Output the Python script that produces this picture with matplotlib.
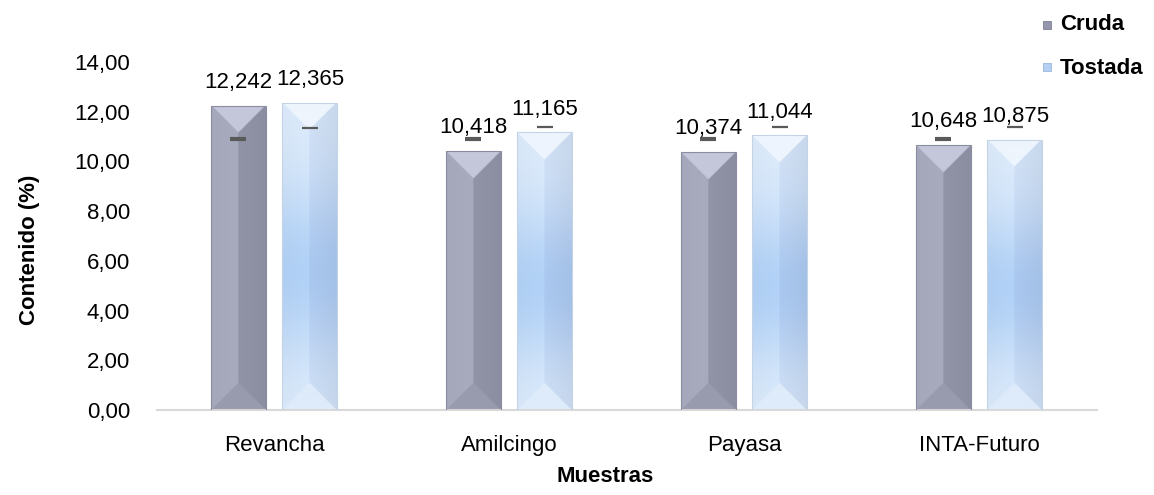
import numpy as np
import matplotlib
matplotlib.use('Agg')
import matplotlib.pyplot as plt
from matplotlib.patches import Rectangle

# ---- data ----
muestras = ['Revancha', 'Amilcingo', 'Payasa', 'INTA-Futuro']
cruda = [12.242, 10.418, 10.374, 10.648]
tostada = [12.365, 11.165, 11.044, 10.875]
cruda_marca = [10.9, 10.9, 10.9, 10.9]
tostada_marca = [11.35, 11.37, 11.37, 11.37]
yticks = [0, 2, 4, 6, 8, 10, 12, 14]
series_names = ['Cruda', 'Tostada']

plt.rcParams['font.family'] = ['Liberation Sans', 'DejaVu Sans']

FW, FH = 1154, 495
fig = plt.figure(figsize=(FW / 100, FH / 100), dpi=100)
ax = fig.add_axes([156.5 / FW, 85 / FH, 940 / FW, 348 / FH])

x = np.arange(len(muestras))
w = 0.234
off = 0.153
bc = ax.bar(x - off, cruda, w, facecolor='none', edgecolor='#8a8da0', linewidth=0.8, zorder=3)
bt = ax.bar(x + off, tostada, w, facecolor='none', edgecolor='#c5d3e6', linewidth=0.8, zorder=3)
ax.set_xlim(-0.5, len(muestras) - 0.5)
ax.set_ylim(0, 14)


def c(rgb):
    return np.array(rgb, dtype=float) / 255.0


def bevel(patch, top, bot, left, right, mid_left=None, mid_right=None):
    x0 = patch.get_x(); bw = patch.get_width(); h = patch.get_height()
    p0 = ax.transData.transform((x0, 0)); p1 = ax.transData.transform((x0 + bw, h))
    Wp = max(int(round(p1[0] - p0[0])), 2); Hp = max(int(round(p1[1] - p0[1])), 2)
    S = 3
    W, H = Wp * S, Hp * S
    xx = (np.arange(W) + 0.5)[None, :] * np.ones((H, 1))
    yy = (np.arange(H) + 0.5)[:, None] * np.ones((1, W))
    edge = np.minimum(xx, W - xx)
    t = yy / H
    g = np.exp(-((t - 0.55) / 0.28) ** 2)[..., None]
    L = left[None, None, :] * np.ones((H, W, 1))
    R = right[None, None, :] * np.ones((H, W, 1))
    if mid_left is not None:
        L = L * (1 - g) + mid_left * g
        R = R * (1 - g) + mid_right * g
    hx = (xx / W)[..., None]
    img = np.where(hx < 0.5, L * (1.0 - 0.04 * (0.5 - hx)), R * (1.0 - 0.08 * (hx - 0.5)))
    topm = yy < edge
    botm = (H - yy) < edge
    img[topm] = top
    img[botm] = bot
    img = np.clip(img, 0, 1)
    im = ax.imshow(img, extent=(x0, x0 + bw, 0, h), aspect='auto',
                   interpolation='bilinear', zorder=2, origin='upper')
    im.set_clip_path(patch)


for p in bc.patches:
    bevel(p, c((196, 199, 218)), c((152, 155, 174)), c((168, 171, 190)), c((145, 148, 167)))
for p in bt.patches:
    bevel(p, c((238, 245, 253)), c((222, 235, 250)), c((222, 236, 252)), c((210, 226, 246)),
          mid_left=c((178, 210, 247)), mid_right=c((170, 200, 240)))

ax.set_xlim(-0.5, len(muestras) - 0.5)
ax.set_ylim(0, 14)

# marks
ax.plot(x - off, cruda_marca, ls='none', marker='_', ms=12, mew=3, color='#5a5a5a', zorder=4)
ax.plot(x + off, tostada_marca, ls='none', marker='_', ms=12, mew=1.6, color='#5a5a5a', zorder=4)

# value labels
for bars, vals in ((bc, cruda), (bt, tostada)):
    for p, v in zip(bars.patches, vals):
        ax.text(p.get_x() + p.get_width() / 2, v + 0.72, f'{v:.3f}'.replace('.', ','),
                ha='center', va='baseline', fontsize=16, color='#000000', zorder=5)

ax.set_yticks(yticks)
ax.set_yticklabels([f'{v:.2f}'.replace('.', ',') for v in yticks], fontsize=16)
ax.set_xticks(x)
ax.set_xticklabels(muestras, fontsize=16)
ax.tick_params(axis='both', length=0)
ax.tick_params(axis='y', pad=19)
ax.tick_params(axis='x', pad=18)
for s in ('top', 'right', 'left'):
    ax.spines[s].set_visible(False)
ax.spines['bottom'].set_color('#d9d9d9')
ax.spines['bottom'].set_linewidth(1.5)

ax.set_ylabel('Contenido (%)', fontsize=16, fontweight='bold', va='center')
ax.yaxis.set_label_coords((30 - 156.5) / 940, (410 - 250) / 348)
ax.set_xlabel('Muestras', fontsize=16, fontweight='bold', va='center')
ax.xaxis.set_label_coords((605 - 156.5) / 940, (410 - 477) / 348)

# legend (manual, figure pixel coords)
leg_cols = ['#9598ad', '#b3cff2']
leg_edges = ['#7d8095', '#9ab8df']
for i, (name, fc, ec) in enumerate(zip(series_names, leg_cols, leg_edges)):
    yc = 25 + 43 * i
    fig.add_artist(Rectangle(((1043) / FW, 1 - (yc + 3.5) / FH), 8 / FW, 8 / FH,
                             transform=fig.transFigure, facecolor=fc, edgecolor=ec, lw=0.6))
    fig.text(1060 / FW, 1 - yc / FH, name, fontsize=16, fontweight='bold',
             ha='left', va='center')

fig.savefig('out.png', dpi=100)
